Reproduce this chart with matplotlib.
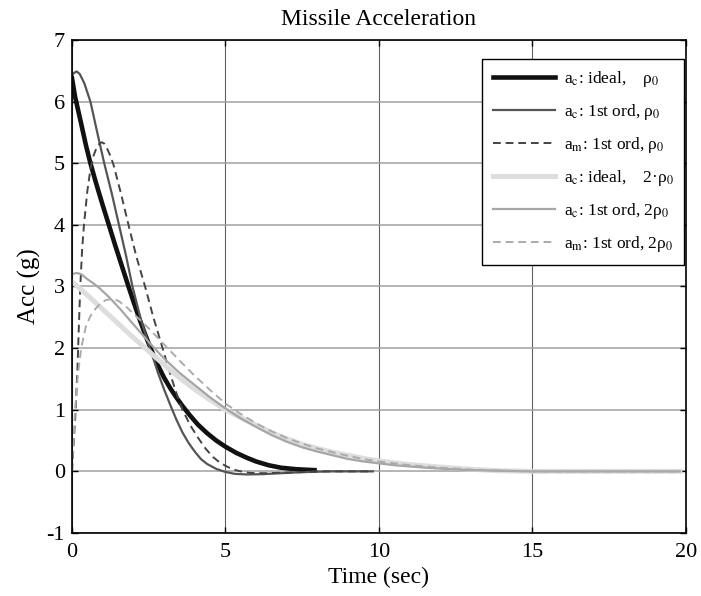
import matplotlib
matplotlib.use("Agg")
import matplotlib.pyplot as plt

plt.rcParams["font.family"] = ["Liberation Serif", "DejaVu Serif"]
plt.rcParams["mathtext.fontset"] = "stix"

# 读图得到的数据 (Time sec, Acc g)
t_ideal1 = [0, 0.1, 0.2, 0.3, 0.45, 0.6, 0.8, 1.0, 1.2, 1.4, 1.6, 1.84, 2.0, 2.2, 2.4, 2.6,
            2.8, 3.0, 3.2, 3.4, 3.6, 3.84, 4.1, 4.4, 4.7, 5.0, 5.35, 5.7, 6.0, 6.4, 6.8,
            7.3, 7.9]
a_ideal1 = [6.38, 6.08, 5.86, 5.64, 5.3, 5.0, 4.65, 4.32, 4.0, 3.68, 3.37, 3.0, 2.76, 2.47,
            2.2, 1.95, 1.72, 1.52, 1.35, 1.2, 1.06, 0.91, 0.76, 0.62, 0.5, 0.4, 0.3, 0.22,
            0.16, 0.1, 0.06, 0.035, 0.02]

t_ord1 = [0, 0.08, 0.15, 0.25, 0.4, 0.6, 0.8, 1.05, 1.3, 1.53, 1.76, 1.97, 2.25, 2.54, 2.8,
          3.0, 3.2, 3.4, 3.6, 3.8, 4.0, 4.2, 4.4, 4.7, 5.0, 5.3, 5.7, 6.2, 6.8, 7.4, 8.0,
          8.5, 9.8]
a_ord1 = [6.43, 6.47, 6.49, 6.45, 6.3, 6.0, 5.55, 5.0, 4.5, 4.0, 3.5, 3.0, 2.45, 2.0, 1.6,
          1.33, 1.08, 0.84, 0.63, 0.46, 0.32, 0.2, 0.12, 0.04, -0.01, -0.04, -0.05, -0.045,
          -0.03, -0.015, -0.005, 0.0, 0.0]

t_am1 = [0, 0.06, 0.12, 0.18, 0.22, 0.27, 0.33, 0.39, 0.5, 0.6, 0.7, 0.8, 0.9, 0.97, 1.05,
         1.15, 1.25, 1.35, 1.6, 1.84, 2.1, 2.38, 2.65, 2.95, 3.25, 3.45, 3.6, 3.85, 4.1,
         4.35, 4.6, 4.8, 5.0, 5.25, 5.5, 5.8, 6.3, 7.0, 7.6, 8.2, 9.8]
a_am1 = [0, 0.5, 1.0, 1.7, 2.3, 3.0, 3.6, 4.0, 4.55, 4.9, 5.12, 5.25, 5.32, 5.34, 5.32,
         5.23, 5.12, 4.98, 4.5, 4.0, 3.48, 3.0, 2.5, 2.0, 1.5, 1.2, 1.0, 0.75, 0.55,
         0.37, 0.23, 0.15, 0.09, 0.03, 0.0, -0.025, -0.03, -0.02, -0.01, 0.0, 0.0]

t_ideal2 = [0, 0.25, 0.5, 1.0, 1.5, 2.0, 2.5, 3.0, 3.5, 4.0, 4.5, 5.0, 5.5, 6.0, 6.5, 7.0,
            7.5, 8.0, 8.5, 9.0, 9.5, 10, 10.5, 11, 11.5, 12, 12.5, 13, 13.5, 14, 14.5,
            15, 19.8]
a_ideal2 = [3.08, 2.97, 2.86, 2.63, 2.4, 2.17, 1.95, 1.73, 1.52, 1.33, 1.16, 1.0, 0.87,
            0.75, 0.63, 0.53, 0.44, 0.37, 0.31, 0.26, 0.21, 0.17, 0.14, 0.11, 0.09, 0.07,
            0.05, 0.035, 0.02, 0.01, 0.005, 0.0, 0.0]

t_ord2 = [0, 0.15, 0.3, 0.5, 0.7, 0.9, 1.2, 1.56, 1.94, 2.5, 3.0, 3.5, 4.0, 4.5, 5.0, 5.5,
          6.0, 6.5, 7.0, 7.5, 8.0, 8.5, 9.0, 9.5, 10, 10.5, 11, 11.5, 12, 12.5, 13, 14,
          15, 19.8]
a_ord2 = [3.2, 3.22, 3.2, 3.12, 3.05, 2.97, 2.83, 2.64, 2.42, 2.1, 1.83, 1.6, 1.4, 1.2,
          1.02, 0.86, 0.72, 0.59, 0.48, 0.39, 0.32, 0.26, 0.2, 0.16, 0.13, 0.1, 0.08,
          0.06, 0.045, 0.03, 0.02, 0.01, 0.0, 0.0]

t_am2 = [0, 0.05, 0.1, 0.2, 0.3, 0.45, 0.6, 0.75, 0.9, 1.1, 1.3, 1.5, 1.75, 2.0, 2.5, 3.0,
         3.5, 4.0, 4.5, 5.0, 5.5, 6.0, 6.5, 7.0, 7.5, 8.0, 8.5, 9.0, 9.5, 10, 10.5, 11,
         11.5, 12, 12.5, 13, 13.5, 14, 15, 19.8]
a_am2 = [0, 0.5, 1.0, 1.6, 2.0, 2.35, 2.52, 2.63, 2.71, 2.78, 2.8, 2.77, 2.68, 2.56, 2.32,
         2.06, 1.8, 1.55, 1.32, 1.1, 0.93, 0.78, 0.65, 0.54, 0.45, 0.37, 0.31, 0.25, 0.2,
         0.16, 0.13, 0.1, 0.08, 0.06, 0.045, 0.03, 0.02, 0.01, 0.0, 0.0]

fig = plt.figure(figsize=(7.01, 5.96), dpi=100)
ax = fig.add_axes([0.1027, 0.1057, 0.8759, 0.8272])

ax.plot(t_ideal1, a_ideal1, color="#111111", lw=3.3,
        label=r"a$_\mathrm{c}$: ideal,    ρ$_0$")
ax.plot(t_ord1, a_ord1, color="#555555", lw=1.6,
        label=r"a$_\mathrm{c}$: 1st ord, ρ$_0$")
ax.plot(t_am1, a_am1, color="#444444", lw=1.4, dashes=(4, 2.5),
        label=r"a$_\mathrm{m}$: 1st ord, ρ$_0$")
ax.plot(t_ideal2, a_ideal2, color="#dddddd", lw=3.6,
        label=r"a$_\mathrm{c}$: ideal,    2·ρ$_0$")
ax.plot(t_ord2, a_ord2, color="#a6a6a6", lw=1.6,
        label=r"a$_\mathrm{c}$: 1st ord, 2ρ$_0$")
ax.plot(t_am2, a_am2, color="#ababab", lw=1.4, dashes=(4, 2.5),
        label=r"a$_\mathrm{m}$: 1st ord, 2ρ$_0$")

ax.set_xlim(0, 20)
ax.set_ylim(-1, 7)
ax.set_xticks([0, 5, 10, 15, 20])
ax.set_yticks(range(-1, 8))
ax.set_yticklabels(["-1", "0", "1", "2", "3", "4", "5", "6", "7"])

# 网格：横线浅灰，竖线深灰
ax.yaxis.grid(True, color="#a0a0a0", lw=1.1)
ax.xaxis.grid(True, color="#606060", lw=0.8)
ax.set_axisbelow(True)

ax.tick_params(direction="in", top=True, right=True, labelsize=16, length=4, width=1)
ax.tick_params(axis="x", pad=7)
ax.tick_params(axis="y", pad=5)
for s in ax.spines.values():
    s.set_linewidth(1.2)

ax.set_title("Missile Acceleration", fontsize=17, pad=11)
ax.set_xlabel("Time (sec)", fontsize=17, labelpad=4)
ax.set_ylabel("Acc (g)", fontsize=18, labelpad=4)

leg = ax.legend(loc="upper right", bbox_to_anchor=(0.997, 0.962), borderaxespad=0,
                fontsize=12.5, handlelength=3.6, labelspacing=0.75, fancybox=False,
                framealpha=1, edgecolor="black", borderpad=0.6, handletextpad=0.5)
leg.get_frame().set_linewidth(1.0)

fig.savefig("out.png", dpi=100)
